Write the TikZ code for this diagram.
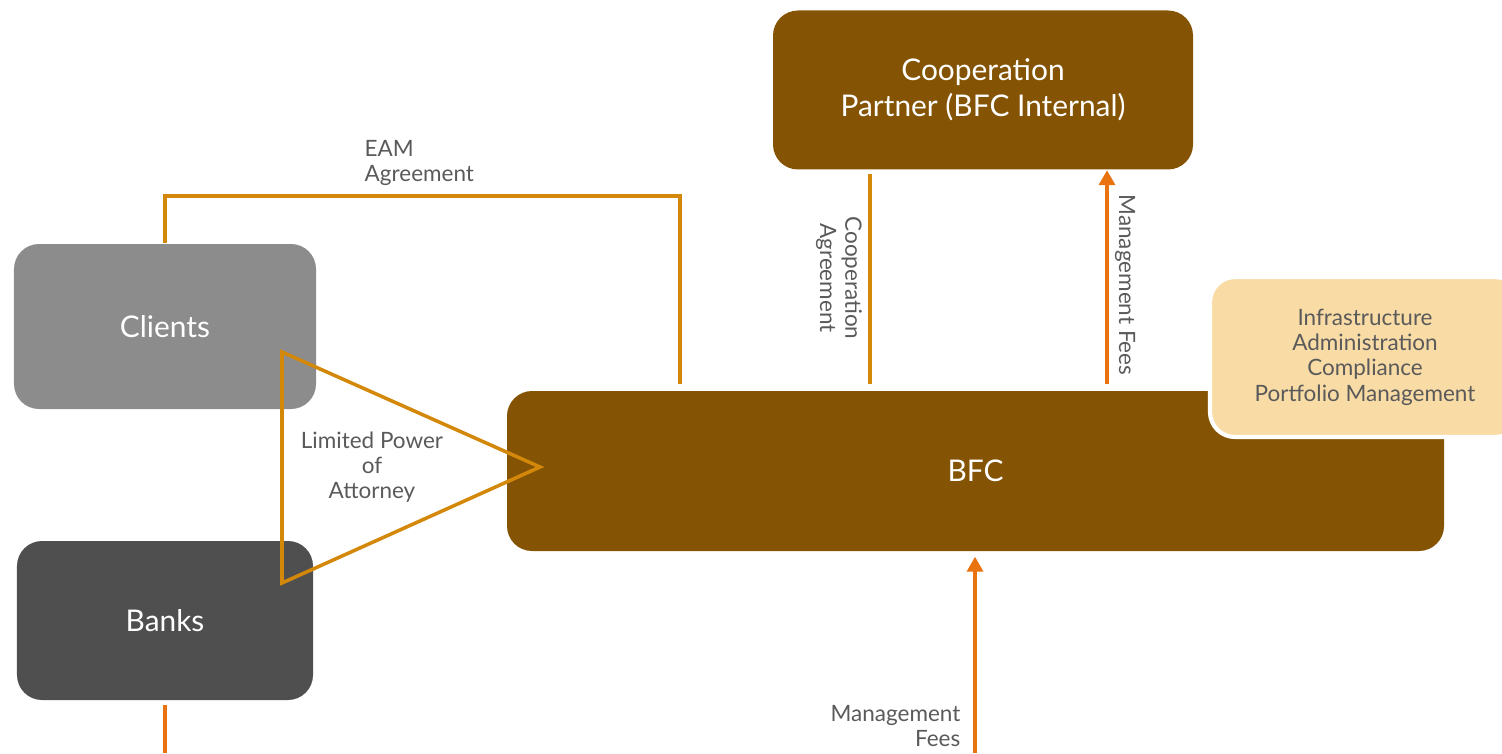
\documentclass[tikz,border=0pt]{standalone}
\usepackage{fontspec}
\setmainfont{Lato}
\usepackage{tikz}
\usetikzlibrary{calc, arrows.meta, positioning}

\definecolor{bfcbrown}{HTML}{845404}
\definecolor{linegold}{HTML}{D4880A}
\definecolor{feeorange}{HTML}{E8730F}
\definecolor{clientgray}{HTML}{8C8C8C}
\definecolor{bankgray}{HTML}{4F4F4F}
\definecolor{servpeach}{HTML}{F9DBA5}
\definecolor{labelgray}{HTML}{5A5A5A}

\tikzset{
  party/.style={rounded corners=0.25cm, inner sep=0pt, text=white, align=center,
    font=\fontsize{8.5}{10.2}\selectfont},
  lbl/.style={text=labelgray, inner sep=0pt, font=\fontsize{6.4}{7.2}\selectfont},
  agree/.style={draw=linegold, line width=1pt},
  fee/.style={draw=feeorange, line width=1pt, -{Triangle[length=0.15cm, width=0.16cm]}}
}

\begin{document}
\begin{tikzpicture}
        \useasboundingbox (0,0) rectangle (15.02,7.53);

        % parties
        \node[party, fill=bfcbrown, minimum width=4.20cm, minimum height=1.59cm]
          (coop) at (9.83,6.63) {Cooperation\\Partner (BFC Internal)};
        \node[party, fill=clientgray, minimum width=3.02cm, minimum height=1.65cm]
          (clients) at (1.65,4.265) {Clients};
        \node[party, fill=bankgray, minimum width=2.96cm, minimum height=1.59cm]
          (banks) at (1.65,1.325) {Banks};
        \node[party, fill=bfcbrown, minimum width=9.37cm, minimum height=1.60cm]
          (bfc) at (9.755,2.82) {BFC};
        \node[party, fill=servpeach, draw=white, line width=1.2pt, text=labelgray,
          minimum width=3.10cm, minimum height=1.60cm, font=\fontsize{6.4}{7.2}\selectfont]
          (serv) at (13.65,3.96) {Infrastructure\\Administration\\Compliance\\Portfolio Management};

        % EAM agreement
        \coordinate (eam) at (6.80,5.57);
        \draw[agree, shorten >=0.06cm] (clients.north) |- (eam) -- (eam |- bfc.north);
        \node[lbl, anchor=west, align=left] (eamlbl) at (3.64,5.90) {EAM\\Agreement};

        % limited power of attorney
        \coordinate (lpaA) at (2.82,4.01);
        \coordinate (lpaB) at (2.82,1.70);
        \coordinate (lpaC) at (5.40,2.86);
        \draw[agree, line join=miter] (lpaA) -- (lpaB) -- (lpaC) -- cycle;
        \node[lbl, align=center] (lpalbl) at (3.72,2.86) {Limited Power\\of\\Attorney};

        % cooperation agreement
        \coordinate (coopx) at (8.70,0);
        \draw[agree, shorten <=0.06cm, shorten >=0.04cm] (coopx |- bfc.north) -- (coopx |- coop.south);
        \node[lbl, rotate=-90, align=center] (coolbl) at (8.39,4.75) {Cooperation\\Agreement};

        % management fees
        \coordinate (feex) at (11.07,0);
        \draw[fee, shorten <=0.06cm] (feex |- bfc.north) -- (feex |- coop.south);
        \node[lbl, rotate=-90] (feelbl) at (11.25,4.68) {Management Fees};

        \coordinate (feein) at (9.75,0);
        \draw[fee, shorten >=0.05cm] (feein) -- (feein |- bfc.south);
        \node[lbl, anchor=east, align=right] (feeinlbl) at (9.61,0.27) {Management\\Fees};

        \coordinate (bankout) at (1.65,0);
        \draw[draw=feeorange, line width=1pt, shorten <=0.04cm] (banks.south) -- (bankout);
\end{tikzpicture}
\end{document}
